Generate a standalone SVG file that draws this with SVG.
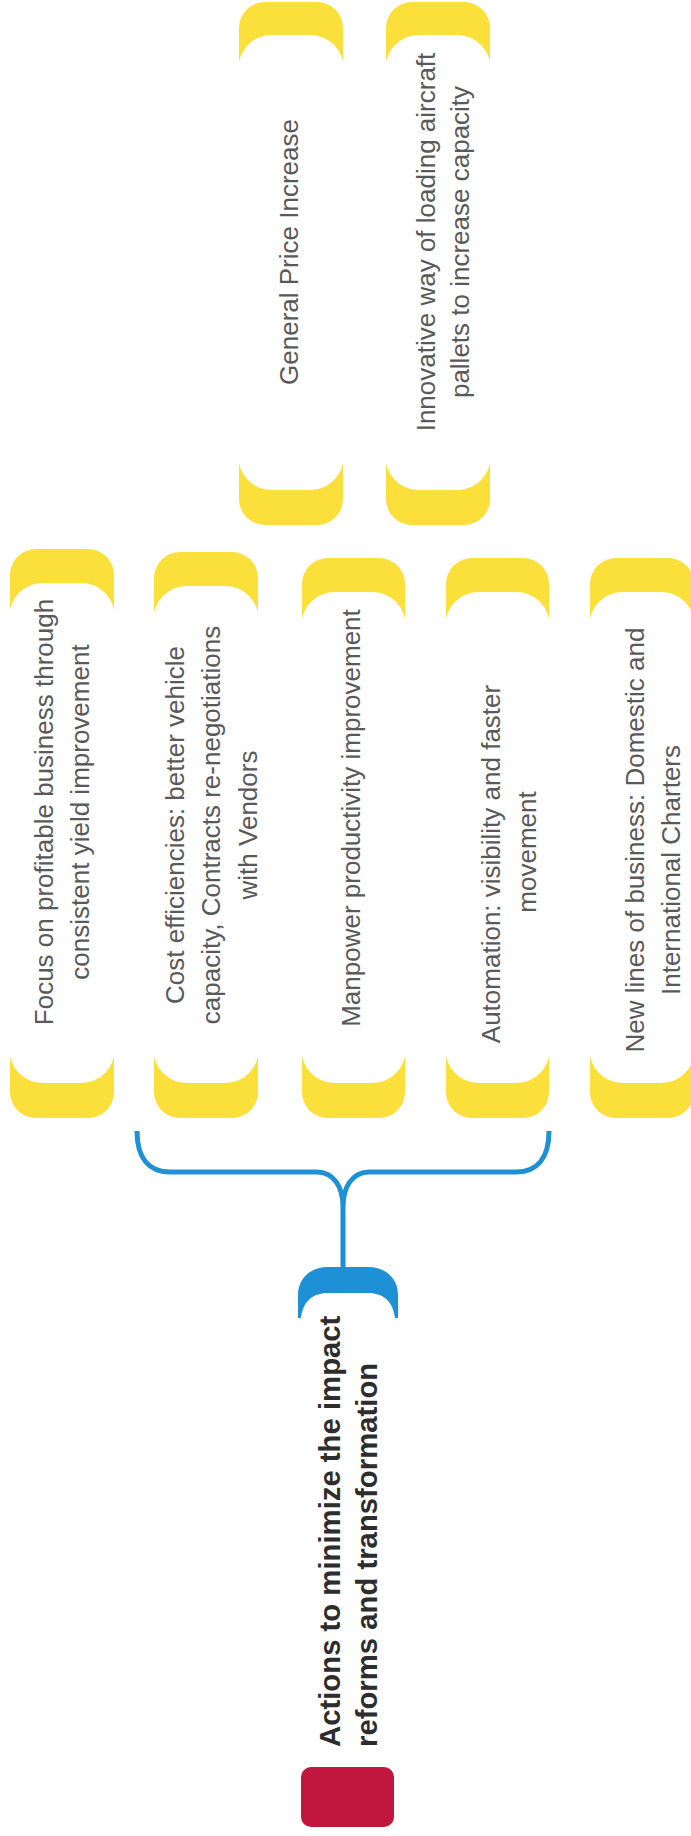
<svg xmlns="http://www.w3.org/2000/svg" width="691" height="1836" viewBox="0 0 691 1836">
<style>
.yel{fill:#FBE03C}
.wht{fill:#FFFFFF}
.txt{font-family:"Liberation Sans",Arial,sans-serif;font-size:26px;fill:#595959;text-anchor:middle}
.ttl{font-family:"Liberation Sans",Arial,sans-serif;font-size:29.3px;font-weight:bold;fill:#2D2D2D;text-anchor:start}
.brk{fill:none;stroke:#1E90D6;stroke-width:5;stroke-linecap:butt}
</style>
<rect width="691" height="1836" fill="#FFFFFF"/>
<g id="connectors">
<path class="brk" d="M137,1131 C137,1158 149,1172 170,1172 L317,1172 C333,1172 343,1186 343,1207 L343,1269 M549,1131 C549,1158 537,1172 516,1172 L369,1172 C353,1172 343,1186 343,1207"/>
<path fill="#1E90D6" d="M298,1318 L298,1295 C298,1278 311,1267 328,1267 L368,1267 C385,1267 398,1278 398,1295 L398,1318 L395,1318 C393,1302 384,1293 368,1293 L328,1293 C312,1293 303,1302 301,1318 Z"/>
</g>
<g id="root">
<rect x="301" y="1767" width="93" height="60" rx="10" fill="#C1173F"/>
<text class="ttl" transform="translate(340,1747) rotate(-90)"><tspan x="0" y="0">Actions to minimize the impact</tspan><tspan x="0" y="37">reforms and transformation</tspan></text>
</g>
<g id="n1">
<rect class="yel" x="10" y="549" width="104" height="569" rx="26"/>
<rect class="wht" x="9" y="583" width="106" height="500" rx="33" ry="35"/>
<text class="txt" transform="translate(53,812) rotate(-90)"><tspan x="0" y="0">Focus on profitable business through</tspan><tspan x="0" y="36">consistent yield improvement</tspan></text>
</g>
<g id="n2">
<rect class="yel" x="154" y="552" width="104" height="566" rx="26"/>
<rect class="wht" x="153" y="586" width="106" height="497" rx="33" ry="35"/>
<text class="txt" transform="translate(184,825) rotate(-90)"><tspan x="0" y="0">Cost efficiencies: better vehicle</tspan><tspan x="0" y="36">capacity, Contracts re-negotiations</tspan><tspan x="0" y="73">with Vendors</tspan></text>
</g>
<g id="n3">
<rect class="yel" x="302" y="558" width="103" height="560" rx="26"/>
<rect class="wht" x="301" y="592" width="105" height="491" rx="33" ry="35"/>
<text class="txt" transform="translate(360,818) rotate(-90)"><tspan x="0" y="0">Manpower productivity improvement</tspan></text>
</g>
<g id="n4">
<rect class="yel" x="446" y="558" width="103" height="560" rx="26"/>
<rect class="wht" x="445" y="592" width="105" height="491" rx="33" ry="35"/>
<text class="txt" transform="translate(500,864) rotate(-90)"><tspan x="0" y="0">Automation: visibility and faster</tspan><tspan x="12" y="36">movement</tspan></text>
</g>
<g id="n5">
<rect class="yel" x="590" y="558" width="104" height="560" rx="26"/>
<rect class="wht" x="589" y="592" width="106" height="491" rx="33" ry="35"/>
<text class="txt" transform="translate(644,840) rotate(-90)"><tspan x="0" y="0">New lines of business: Domestic and</tspan><tspan x="-30" y="36">International Charters</tspan></text>
</g>
<g id="n6">
<rect class="yel" x="239" y="2" width="104" height="523" rx="26"/>
<rect class="wht" x="238" y="35" width="106" height="455" rx="33" ry="35"/>
<text class="txt" transform="translate(298,252) rotate(-90)"><tspan x="0" y="0">General Price Increase</tspan></text>
</g>
<g id="n7">
<rect class="yel" x="386" y="2" width="104" height="523" rx="26"/>
<rect class="wht" x="385" y="35" width="106" height="455" rx="33" ry="35"/>
<text class="txt" transform="translate(435,242) rotate(-90)"><tspan x="0" y="0">Innovative way of loading aircraft</tspan><tspan x="0" y="34">pallets to increase capacity</tspan></text>
</g>
</svg>
